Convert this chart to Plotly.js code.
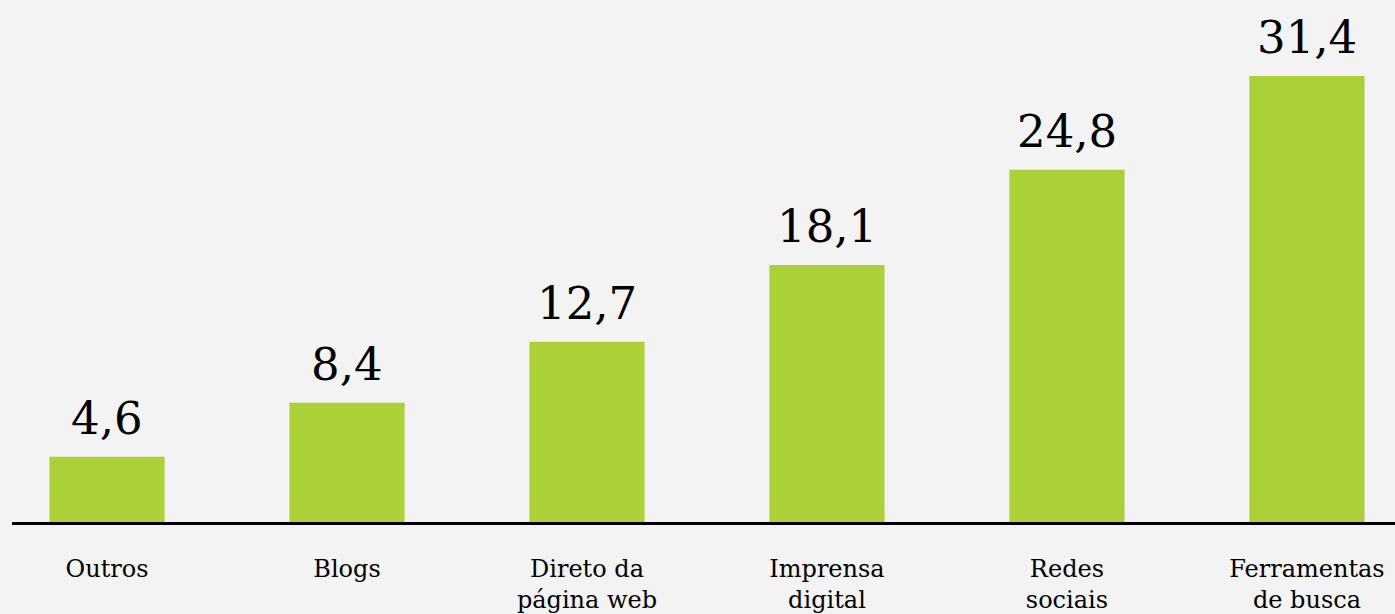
<!DOCTYPE html>
<html>
<head>
<meta charset="utf-8">
<script src="https://cdn.plot.ly/plotly-3.0.1.min.js"></script>
<style>
html,body{margin:0;padding:0;background:#f3f3f3;overflow:hidden;}
#chart{width:1395px;height:614px;}
</style>
</head>
<body>
<div id="chart"></div>
<script>
const categories = ["Outros", "Blogs", "Direto da<br>página web", "Imprensa<br>digital", "Redes<br>sociais", "Ferramentas<br>de busca"];
const values = [4.6, 8.4, 12.7, 18.1, 24.8, 31.4];
const valueLabels = values.map(v => v.toFixed(1).replace('.', ','));

const FONT = "'DejaVu Serif', serif";

const trace = {
  type: 'bar',
  x: categories,
  y: values,
  marker: {color: '#acd037'},
  hoverinfo: 'none'
};

const annotations = categories.map((c, i) => ({
  x: c, y: values[i], xref: 'x', yref: 'y',
  text: valueLabels[i],
  showarrow: false,
  yanchor: 'bottom',
  yshift: 10,
  font: {family: FONT, size: 45, color: '#000'}
}));

const layout = {
  width: 1395, height: 614,
  margin: {l: 12, r: 0, t: 0, b: 92, pad: 0},
  paper_bgcolor: '#f3f3f3',
  plot_bgcolor: '#f3f3f3',
  bargap: 0.52,
  showlegend: false,
  xaxis: {
    type: 'category',
    range: [-0.396, 5.367],
    showline: true, linecolor: '#000', linewidth: 3,
    showgrid: false, zeroline: false, ticks: '',
    tickfont: {family: FONT, size: 24, color: '#000'},
    ticklabelstandoff: 23,
    fixedrange: true
  },
  yaxis: {
    range: [0, 36.76],
    visible: false, showgrid: false, zeroline: false,
    fixedrange: true
  },
  annotations: annotations,
  font: {family: FONT}
};

Plotly.newPlot('chart', [trace], layout, {displayModeBar: false, staticPlot: true});
</script>
</body>
</html>
